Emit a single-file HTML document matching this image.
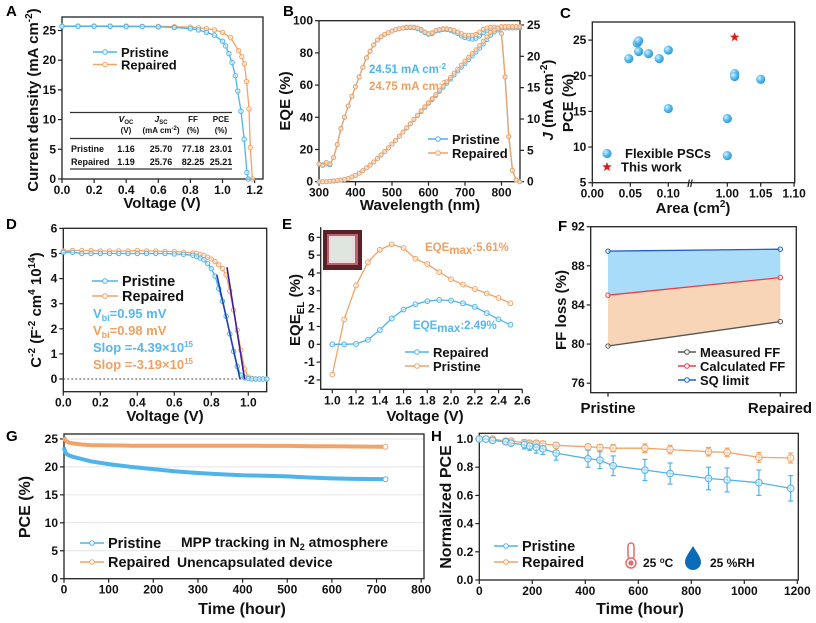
<!DOCTYPE html>
<html><head><meta charset="utf-8">
<style>
html,body{margin:0;padding:0;background:#fff;}
svg{display:block;font-family:"Liberation Sans",Arial,sans-serif;font-weight:bold;}
.t{font-size:12px;fill:#111;}
.ti{font-size:15px;fill:#111;}
.pl{font-size:15px;fill:#000;}
.lg{font-size:13px;fill:#111;}
.lgb{font-size:14.5px;fill:#111;}
</style></head>
<body>
<svg id="fig" width="816" height="623" viewBox="0 0 816 623" xmlns="http://www.w3.org/2000/svg">
<defs>
<radialGradient id="ball" cx="0.35" cy="0.35" r="0.7"><stop offset="0" stop-color="#d8f0ff"/><stop offset="0.5" stop-color="#5cbcf0"/><stop offset="1" stop-color="#2f95d6"/></radialGradient>
</defs>
<!-- panel letters -->
<text class="pl" x="6" y="16">A</text>
<text class="pl" x="283" y="16">B</text>
<text class="pl" x="560" y="18">C</text>
<text class="pl" x="6" y="229">D</text>
<text class="pl" x="282" y="229">E</text>
<text class="pl" x="558" y="231">F</text>
<text class="pl" x="6" y="441">G</text>
<text class="pl" x="431" y="441">H</text>

<!-- axis titles -->
<text class="ti" transform="translate(38,100) rotate(-90)" text-anchor="middle">Current density (mA cm<tspan dy="-6" font-size="10">-2</tspan><tspan dy="6">)</tspan></text>
<text class="ti" x="162" y="208" text-anchor="middle">Voltage (V)</text>
<text class="ti" transform="translate(290,101) rotate(-90)" text-anchor="middle">EQE (%)</text>
<text class="ti" transform="translate(553,100) rotate(-90)" text-anchor="middle"><tspan font-style="italic">J</tspan> (mA cm<tspan dy="-6" font-size="10">-2</tspan><tspan dy="6">)</tspan></text>
<text class="ti" x="420" y="210" text-anchor="middle">Wavelength (nm)</text>
<text class="ti" transform="translate(573,103) rotate(-90)" text-anchor="middle">PCE (%)</text>
<text class="ti" x="693" y="213" text-anchor="middle">Area (cm<tspan dy="-6" font-size="10">2</tspan><tspan dy="6">)</tspan></text>
<text class="ti" transform="translate(41,310) rotate(-90)" text-anchor="middle">C<tspan dy="-6" font-size="10">-2</tspan><tspan dy="6"> (F</tspan><tspan dy="-6" font-size="10">-2</tspan><tspan dy="6"> cm</tspan><tspan dy="-6" font-size="10">4</tspan><tspan dy="6"> 10</tspan><tspan dy="-6" font-size="10">14</tspan><tspan dy="6">)</tspan></text>
<text class="ti" x="165" y="421" text-anchor="middle">Voltage (V)</text>
<text class="ti" transform="translate(300,310) rotate(-90)" text-anchor="middle">EQE<tspan dy="4" font-size="10">EL</tspan><tspan dy="-4"> (%)</tspan></text>
<text class="ti" x="425" y="421" text-anchor="middle">Voltage (V)</text>
<text class="ti" transform="translate(566,310) rotate(-90)" text-anchor="middle">FF loss (%)</text>
<text class="ti" x="608" y="413" text-anchor="middle">Pristine</text>
<text class="ti" x="780" y="413" text-anchor="middle">Repaired</text>
<text class="ti" transform="translate(30,507) rotate(-90)" text-anchor="middle" style="font-size:16px">PCE (%)</text>
<text class="ti" x="242" y="614" text-anchor="middle" style="font-size:16px">Time (hour)</text>
<text class="ti" transform="translate(451,507) rotate(-90)" text-anchor="middle" style="font-size:16px">Normalized PCE</text>
<text class="ti" x="640" y="614" text-anchor="middle" style="font-size:16px">Time (hour)</text>

<!-- A table -->
<g font-size="9" fill="#111">
<line x1="70" y1="112.5" x2="232" y2="112.5" stroke="#333" stroke-width="1.2"/>
<line x1="70" y1="138.5" x2="232" y2="138.5" stroke="#333" stroke-width="1.2"/>
<line x1="70" y1="169" x2="232" y2="169" stroke="#333" stroke-width="1.2"/>
<text x="126" y="122" text-anchor="middle" font-size="8.5"><tspan font-style="italic">V</tspan><tspan font-size="6" dy="2">OC</tspan></text>
<text x="126" y="133" text-anchor="middle" font-size="8">(V)</text>
<text x="161" y="122" text-anchor="middle" font-size="8.5"><tspan font-style="italic">J</tspan><tspan font-size="6" dy="2">SC</tspan></text>
<text x="161" y="133" text-anchor="middle" font-size="8">(mA cm<tspan dy="-3" font-size="6">-2</tspan><tspan dy="3">)</tspan></text>
<text x="193" y="122" text-anchor="middle" font-size="8">FF</text>
<text x="193" y="133" text-anchor="middle" font-size="8">(%)</text>
<text x="221" y="122" text-anchor="middle" font-size="8">PCE</text>
<text x="221" y="133" text-anchor="middle" font-size="8">(%)</text>
<text x="71" y="152">Pristine</text><text x="126" y="152" text-anchor="middle">1.16</text><text x="161" y="152" text-anchor="middle">25.70</text><text x="193" y="152" text-anchor="middle">77.18</text><text x="221" y="152" text-anchor="middle">23.01</text>
<text x="71" y="165">Repaired</text><text x="126" y="165" text-anchor="middle">1.19</text><text x="161" y="165" text-anchor="middle">25.76</text><text x="193" y="165" text-anchor="middle">82.25</text><text x="221" y="165" text-anchor="middle">25.21</text>
</g>

<!-- annotations -->
<text x="369" y="73" font-size="11.5" fill="#4fb6ec">24.51 mA cm<tspan dy="-4" font-size="8">-2</tspan></text>
<text x="369" y="90" font-size="11.5" fill="#f0a060">24.75 mA cm<tspan dy="-4" font-size="8">-2</tspan></text>
<text x="93" y="318" font-size="13" fill="#56b8ec">V<tspan dy="3" font-size="9">bi</tspan><tspan dy="-3">=0.95 mV</tspan></text>
<text x="93" y="335" font-size="13" fill="#f0a060">V<tspan dy="3" font-size="9">bi</tspan><tspan dy="-3">=0.98 mV</tspan></text>
<text x="93" y="352" font-size="13" fill="#56b8ec">Slop =-4.39×10<tspan dy="-5" font-size="8">15</tspan></text>
<text x="93" y="369" font-size="13" fill="#f0a060">Slop =-3.19×10<tspan dy="-5" font-size="8">15</tspan></text>
<text x="425" y="251" font-size="11.5" fill="#f0a060">EQE<tspan dy="3" font-size="11.5">max</tspan><tspan dy="-3">:5.61%</tspan></text>
<text x="413" y="329" font-size="11.5" fill="#56b8ec">EQE<tspan dy="3" font-size="11.5">max</tspan><tspan dy="-3">:2.49%</tspan></text>
<g>
<rect x="323" y="230" width="39" height="40" fill="#5a2228"/>
<rect x="327" y="234" width="31" height="31" fill="#b8646c"/>
<rect x="329" y="236" width="26" height="27" fill="#e6dede"/>
<rect x="331" y="238" width="21" height="22" fill="#dfe6df"/>
</g>
<text x="181" y="547" font-size="14" fill="#111">MPP tracking in N<tspan dy="3" font-size="9">2</tspan><tspan dy="-3"> atmosphere</tspan></text>
<text x="177" y="567" font-size="14" fill="#111">Unencapsulated device</text>
<g>
<rect x="628" y="543" width="6" height="16" rx="3" fill="#fff" stroke="#e86a6a" stroke-width="1.5"/>
<circle cx="631" cy="563" r="5" fill="#fff" stroke="#e86a6a" stroke-width="1.5"/><circle cx="631" cy="563" r="2.6" fill="#e86a6a"/>
</g>
<text x="643" y="567" font-size="12" fill="#111">25 <tspan dy="-4" font-size="8">o</tspan><tspan dy="4">C</tspan></text>
<path d="M693 546 C688 554 685 558 685 562 A8 8 0 0 0 701 562 C701 558 698 554 693 546 Z" fill="#0a6bb8"/>
<text x="710" y="567" font-size="12" fill="#111">25 %RH</text>
<text x="703" y="274" font-size="12" fill="#111" text-anchor="middle">Non-radiative loss</text>
<text x="0" y="0" font-size="12" fill="#111" text-anchor="middle" transform="translate(697,316) rotate(-7)">Transport loss</text>
<text x="690" y="187" font-size="10" fill="#111" text-anchor="middle">//</text>
</svg>
<script>
// ===== DATA =====
// A: J-V
const jvPrisV=[0,0.1,0.2,0.3,0.4,0.5,0.6,0.7,0.8,0.85,0.9,0.95,1.0,1.02,1.04,1.06,1.08,1.095,1.115,1.135,1.152,1.16];
const jvPrisJ=[25.7,25.7,25.7,25.7,25.65,25.65,25.6,25.5,25.3,25.1,24.7,24.2,23.2,22.4,21.1,19.6,17.4,14.8,11.4,6.7,1.1,0];
const jvRepV=[0,0.1,0.2,0.3,0.4,0.5,0.6,0.7,0.8,0.85,0.9,0.95,1.0,1.05,1.1,1.12,1.136,1.15,1.165,1.173,1.186];
const jvRepJ=[25.76,25.76,25.76,25.75,25.75,25.7,25.7,25.65,25.55,25.45,25.3,25.1,24.7,23.8,21.6,20.6,19.4,16.4,11.8,5.3,0];
// B: EQE and integrated J
const eqeWl=[300,310,320,330,340,350,360,370,380,390,400,410,420,430,440,450,460,470,480,490,500,510,520,530,540,550,560,570,580,590,600,610,620,630,640,650,660,670,680,690,700,710,720,730,740,750,760,770,780,790,800,810,820,830,840,850];
const eqeRep=[11,10,12,11,15,23,33,40,47,53,59,65,71,77,81,85,88,90,91.5,92.5,93.5,94.5,95,95.5,96,96,96,95.5,94.5,93,92,92.5,94,94.5,95,95,94.5,94,93,92,91,91,91,91.5,93,94.5,95.5,96,96,95.5,92,65,28,7,1,0];
const eqePris=[11,10.5,11,10.5,15,23,33,40,47,53,59,65,71,77,81,85,88,90,91.5,92.5,93.5,94.5,95,95.3,95.6,95.6,95.6,95,94,92.5,91.5,92,93.5,94,94.5,94.5,94,93,92,90.5,89.5,89,88.5,89,90.5,92.5,94,95,95,95,92,65,28,7,1,0];
const jintRep=[0,0,0,0.05,0.1,0.15,0.25,0.35,0.5,0.75,1.0,1.35,1.75,2.2,2.65,3.15,3.7,4.25,4.8,5.4,6.0,6.6,7.25,7.9,8.6,9.25,9.95,10.6,11.3,11.95,12.6,13.25,13.9,14.6,15.25,15.95,16.6,17.3,17.95,18.6,19.25,19.85,20.45,21.05,21.7,22.4,23.1,23.8,24.2,24.5,24.75,24.75,24.75,24.75,24.75,24.75];
const jintPris=[0,0,0,0.05,0.1,0.15,0.25,0.35,0.5,0.75,1.0,1.35,1.75,2.2,2.65,3.15,3.7,4.25,4.8,5.4,6.0,6.6,7.25,7.9,8.55,9.2,9.9,10.55,11.2,11.85,12.5,13.1,13.75,14.4,15.05,15.7,16.35,17.0,17.65,18.25,18.85,19.45,20.05,20.65,21.3,21.95,22.65,23.35,23.85,24.2,24.51,24.51,24.51,24.51,24.51,24.51];
// C: literature comparison
const litArea=[0.048,0.059,0.061,0.061,0.074,0.088,0.1,0.1,1.0,1.0,1.011,1.011,1.05];
const litPce=[22.4,24.6,24.9,23.4,23.1,22.4,23.6,15.4,14.0,8.8,20.3,19.9,19.5];
const thisArea=[1.011];
const thisPce=[25.4];
// D: Mott-Schottky
const msV=[0,0.05,0.1,0.15,0.2,0.25,0.3,0.35,0.4,0.45,0.5,0.55,0.6,0.65,0.7,0.72,0.74,0.76,0.78,0.8,0.82,0.84,0.86,0.88,0.9,0.92,0.94,0.96,0.98,1.0,1.02,1.04,1.06,1.08,1.1];
const msPris=[5.05,5.05,5.0,5.0,5.0,5.0,5.0,5.0,5.0,5.0,5.0,5.0,4.98,4.97,4.93,4.88,4.82,4.75,4.6,4.4,4.1,3.6,3.1,2.5,1.8,1.1,0.5,0.15,0.05,0.02,0,0,0,0,0];
const msRep=[5.1,5.12,5.12,5.12,5.1,5.1,5.1,5.1,5.12,5.1,5.1,5.08,5.08,5.05,5.02,5.0,4.96,4.92,4.85,4.78,4.68,4.55,4.4,4.15,3.5,2.75,1.95,1.15,0.4,0.08,0.02,0,0,0,0];
const fitPrisV=[0.83,0.955]; const fitPrisC=[4.15,0];
const fitRepV=[0.885,0.98]; const fitRepC=[4.45,0];
// E: EQE_EL
const elV=[1.0,1.1,1.2,1.3,1.4,1.5,1.6,1.7,1.8,1.9,2.0,2.1,2.2,2.3,2.4,2.5];
const elOrange=[-1.7,1.4,3.3,4.6,5.3,5.61,5.4,4.8,4.5,4.05,3.65,3.35,3.1,2.85,2.6,2.3];
const elBlue=[0,0,0.02,0.25,0.8,1.45,1.95,2.25,2.42,2.49,2.45,2.3,2.1,1.75,1.4,1.1];
// F: FF loss
const ffCats=["Pristine","Repaired"];
const ffSQ=[89.5,89.7];
const ffCalc=[85.0,86.8];
const ffMeas=[79.8,82.3];
// G: MPP tracking
const mppT=[0,2,5,10,20,40,60,100,150,200,250,300,350,400,450,500,550,600,650,720];
const mppPris=[23.5,22.8,22.4,22.1,21.8,21.4,21.0,20.5,20.0,19.6,19.2,18.9,18.7,18.5,18.4,18.3,18.1,17.95,17.85,17.8];
const mppRep=[25.3,24.9,24.6,24.4,24.2,24.0,23.9,23.85,23.8,23.8,23.8,23.8,23.8,23.8,23.75,23.75,23.7,23.7,23.65,23.6];
// H: humidity stability
const stabT=[0,25,50,100,120,170,190,215,240,290,410,455,505,625,720,865,935,1055,1175];
const stabPris=[1,1,0.99,0.98,0.97,0.96,0.95,0.94,0.93,0.9,0.86,0.85,0.81,0.78,0.755,0.72,0.71,0.69,0.65];
const stabPrisErr=[0,0,0.005,0.01,0.015,0.03,0.03,0.04,0.04,0.05,0.06,0.06,0.07,0.075,0.075,0.08,0.085,0.09,0.09];
const stabRep=[1,1,1,0.985,0.985,0.975,0.97,0.97,0.965,0.955,0.945,0.94,0.935,0.935,0.925,0.91,0.905,0.87,0.865];
const stabRepErr=[0,0,0.005,0.01,0.01,0.02,0.02,0.02,0.02,0.02,0.02,0.02,0.025,0.03,0.03,0.03,0.03,0.035,0.035];
// tick labels
const aXTicks=[0,0.2,0.4,0.6,0.8,1.0,1.2], aYTicks=[0,5,10,15,20,25];
const bXTicks=[300,400,500,600,700,800], bYTicks=[0,20,40,60,80,100], bRTicks=[0,5,10,15,20,25];
const cXTicksL=[0,0.05,0.1], cXTicksR=[1.0,1.05,1.1], cYTicks=[5,10,15,20,25];
const dXTicks=[0,0.2,0.4,0.6,0.8,1.0], dYTicks=[0,1,2,3,4,5,6];
const eXTicks=[1.0,1.2,1.4,1.6,1.8,2.0,2.2,2.4,2.6], eYTicks=[-2,-1,0,1,2,3,4,5,6];
const fYTicks=[76,80,84,88,92];
const gXTicks=[0,100,200,300,400,500,600,700,800], gYTicks=[0,5,10,15,20,25];
const hXTicks=[0,200,400,600,800,1000,1200], hYTicks=[0,0.2,0.4,0.6,0.8,1.0];

// ===== DRAWING =====
const NS="http://www.w3.org/2000/svg";
const svg=document.getElementById('fig');
const BLUE="#4fb4ea", ORANGE="#f0a468";
function mk(tag,attrs,name,parent){
  const el=document.createElementNS(NS,tag);
  for(const k in attrs) el.setAttribute(k,attrs[k]);
  
  
  (parent||svg).appendChild(el);
  return el;
}
function label(x,y,s,anchor,name,cls){
  const t=mk('text',{x:x,y:y,'text-anchor':anchor,class:cls||'t'},name);
  t.textContent=s; return t;
}
function frame(x0,y0,x1,y1,name,full){
  if(full) mk('rect',{x:x0,y:y0,width:x1-x0,height:y1-y0,fill:'none',stroke:'#222','stroke-width':1.3},name);
  else mk('path',{d:`M${x0} ${y0} V${y1} H${x1}`,fill:'none',stroke:'#222','stroke-width':1.3},name);
}
function xticks(vals,fx,y,dec,name){
  vals.forEach(v=>{const x=fx(v);
    mk('line',{x1:x,y1:y,x2:x,y2:y+4,stroke:'#222','stroke-width':1.2},name+'-tick');
    label(x,y+15,v.toFixed(dec),'middle',name+'-label');});
}
function yticks(vals,fy,x,dec,name,right){
  vals.forEach(v=>{const y=fy(v);
    mk('line',{x1:x,y1:y,x2:right?x+4:x-4,y2:y,stroke:'#222','stroke-width':1.2},name+'-tick');
    label(right?x+7:x-6,y+4,v.toFixed(dec),right?'start':'end',name+'-label');});
}
function series(xs,ys,fx,fy,color,name,r,sw){
  const d=xs.map((x,i)=>(i?'L':'M')+fx(x).toFixed(1)+' '+fy(ys[i]).toFixed(1)).join(' ');
  mk('path',{d:d,fill:'none',stroke:color,'stroke-width':sw||1.3},name+'-line');
  if(r) xs.forEach((x,i)=>mk('circle',{cx:fx(x),cy:fy(ys[i]),r:r,fill:'#fff','fill-opacity':0.5,stroke:color,'stroke-width':1},name+'-marker'));
}
function legend(x,y,color,s,name,len,cls){
  mk('line',{x1:x,y1:y,x2:x+(len||24),y2:y,stroke:color,'stroke-width':1.5},name+'-swatch');
  mk('circle',{cx:x+(len||24)/2,cy:y,r:2.3,fill:'#fff',stroke:color,'stroke-width':1},name+'-swatch-marker');
  label(x+(len||24)+4,y+5,s,'start',name+'-text',cls||'lg');
}

// A
const xA=v=>62+v*160.5, yA=j=>179-j*5.94;
frame(62,17,263,179,'a-plot-frame',true);
xticks(aXTicks,xA,179,1,'a-x-axis');
yticks(aYTicks,yA,62,0,'a-y-axis');
series(jvRepV,jvRepJ,xA,yA,ORANGE,'a-series-repaired',2.2);
series(jvPrisV,jvPrisJ,xA,yA,BLUE,'a-series-pristine',2.2);
legend(93,52,BLUE,'Pristine','a-legend-pristine');
legend(93,64.5,ORANGE,'Repaired','a-legend-repaired');

// B
const xB=w=>319+(w-300)*0.365, yB=e=>181.7-e*1.61, yBr=j=>181.7-j*6.27;
frame(319,20.7,520,181.7,'b-plot-frame',true);
xticks(bXTicks,xB,181.7,0,'b-x-axis');
yticks(bYTicks,yB,319,0,'b-y-axis');
yticks(bRTicks,yBr,520,0,'b-right-axis',true);
series(eqeWl,eqePris,xB,yB,BLUE,'b-eqe-pristine',2);
series(eqeWl,jintPris,xB,yBr,BLUE,'b-jint-pristine',2);
series(eqeWl,eqeRep,xB,yB,ORANGE,'b-eqe-repaired',2);
series(eqeWl,jintRep,xB,yBr,ORANGE,'b-jint-repaired',2);
legend(428,139,BLUE,'Pristine','b-legend-pristine',20);
legend(428,153,ORANGE,'Repaired','b-legend-repaired',20);

// C
const xC=a=>a<0.5?592.3+a*760:727.3+(a-1)*668, yC=p=>182.7-(p-5)*7.13;
frame(592.3,22,794.7,182.7,'c-plot-frame',true);
xticks(cXTicksL,xC,182.7,2,'c-x-axis');
xticks(cXTicksR,xC,182.7,2,'c-x-axis');
yticks(cYTicks,yC,592.3,0,'c-y-axis');
litArea.forEach((a,i)=>mk('circle',{cx:xC(a),cy:yC(litPce[i]),r:4.6,fill:'url(#ball)'},'c-point-flexible-psc'));
function star(cx,cy,r,name){let d='';for(let k=0;k<10;k++){const rr=k%2?r*0.42:r;const an=-Math.PI/2+k*Math.PI/5;d+=(k?'L':'M')+(cx+rr*Math.cos(an)).toFixed(1)+' '+(cy+rr*Math.sin(an)).toFixed(1);}mk('path',{d:d+'Z',fill:'#e01818'},name);}
thisArea.forEach((a,i)=>star(xC(a),yC(thisPce[i]),5,'c-point-this-work'));
mk('circle',{cx:607,cy:153.5,r:4.6,fill:'url(#ball)'},'c-legend-flexible-marker');
label(625,158,'Flexible PSCs','start','c-legend-flexible-text','lg');
star(607,167,5,'c-legend-this-work-marker');
label(621,171.5,'This work','start','c-legend-this-work-text','lg');

// D
const xD=v=>63.3+v*185, yD=c=>379-c*25.1;
frame(63.3,228.3,266.7,391.7,'d-plot-frame',true);
xticks(dXTicks,xD,391.7,1,'d-x-axis');
yticks(dYTicks,yD,63.3,0,'d-y-axis');
mk('line',{x1:63.3,y1:yD(0),x2:266.7,y2:yD(0),stroke:'#555','stroke-dasharray':'2,2','stroke-width':1},'d-zero-line');
series(msV,msRep,xD,yD,ORANGE,'d-series-repaired',2.2);
series(msV,msPris,xD,yD,BLUE,'d-series-pristine',2.2);
series(fitPrisV,fitPrisC,xD,yD,'#1f3fb8','d-fit-pristine',0,1.6);
series(fitRepV,fitRepC,xD,yD,'#3a1f9a','d-fit-repaired',0,1.6);
legend(92,281,BLUE,'Pristine','d-legend-pristine',26,'lgb');
legend(92,296,ORANGE,'Repaired','d-legend-repaired',26,'lgb');

// E
const xE=v=>332.3+(v-1)*118.75, yE=e=>344.3-e*17.83;
frame(320.7,227.3,522.3,389.3,'e-plot-frame',false);
xticks(eXTicks,xE,389.3,1,'e-x-axis');
yticks(eYTicks,yE,320.7,0,'e-y-axis');
series(elV,elOrange,xE,yE,ORANGE,'e-series-orange',2.4);
series(elV,elBlue,xE,yE,BLUE,'e-series-blue',2.4);
legend(405,352,BLUE,'Repaired','e-legend-repaired');
legend(405,366,ORANGE,'Pristine','e-legend-pristine');

// F
const xF=i=>608+i*172.3, yF=f=>226.7+(92-f)*9.78;
const idx=[0,1];
mk('path',{d:`M${xF(0)} ${yF(ffSQ[0])} L${xF(1)} ${yF(ffSQ[1])} L${xF(1)} ${yF(ffCalc[1])} L${xF(0)} ${yF(ffCalc[0])}Z`,fill:'#a9dcf8'},'f-nonradiative-area');
mk('path',{d:`M${xF(0)} ${yF(ffCalc[0])} L${xF(1)} ${yF(ffCalc[1])} L${xF(1)} ${yF(ffMeas[1])} L${xF(0)} ${yF(ffMeas[0])}Z`,fill:'#f9d5b8'},'f-transport-area');
frame(590.7,226.7,796.3,392.7,'f-plot-frame',true);
yticks(fYTicks,yF,590.7,0,'f-y-axis');
idx.forEach(i=>mk('line',{x1:xF(i),y1:392.7,x2:xF(i),y2:396.7,stroke:'#222','stroke-width':1.2},'f-x-tick'));
series(idx,ffSQ,xF,yF,'#1f5fc8','f-series-sq-limit',2.2);
series(idx,ffCalc,xF,yF,'#e8404a','f-series-calculated',2.2);
series(idx,ffMeas,xF,yF,'#555','f-series-measured',2.2);
legend(678,352,'#555','Measured FF','f-legend-measured',18);
legend(678,366,'#e8404a','Calculated FF','f-legend-calculated',18);
legend(678,380,'#1f5fc8','SQ limit','f-legend-sq',18);

// G
const xG=t=>64+t*0.4465, yG=p=>578.7-p*5.59;
gYTicks.forEach(v=>mk('line',{x1:64,y1:yG(v),x2:424,y2:yG(v),stroke:'#e4e4e4','stroke-width':1},'g-gridline'));
frame(64,434,424,578.7,'g-plot-frame',true);
xticks(gXTicks,xG,578.7,0,'g-x-axis');
yticks(gYTicks,yG,64,0,'g-y-axis');
series(mppT,mppRep,xG,yG,ORANGE,'g-series-repaired',0,4);
series(mppT,mppPris,xG,yG,BLUE,'g-series-pristine',0,4);
mk('circle',{cx:xG(720),cy:yG(23.6),r:2.5,fill:'#fff',stroke:ORANGE},'g-end-marker-repaired');
mk('circle',{cx:xG(720),cy:yG(17.8),r:2.5,fill:'#fff',stroke:BLUE},'g-end-marker-pristine');
legend(80,543,BLUE,'Pristine','g-legend-pristine',24,'lgb');
legend(80,562,ORANGE,'Repaired','g-legend-repaired',24,'lgb');

// H
const xH=t=>479.3+t*0.265, yH=v=>580-v*141;
frame(479.3,433.3,798.3,580,'h-plot-frame',true);
xticks(hXTicks,xH,580,0,'h-x-axis');
yticks(hYTicks,yH,479.3,1,'h-y-axis');
function errs(ts,vs,es,color,name){ts.forEach((t,i)=>{const x=xH(t);
  mk('line',{x1:x,y1:yH(vs[i]+es[i]),x2:x,y2:yH(vs[i]-es[i]),stroke:color,'stroke-width':1.2},name);
  mk('line',{x1:x-2.5,y1:yH(vs[i]+es[i]),x2:x+2.5,y2:yH(vs[i]+es[i]),stroke:color,'stroke-width':1.2},name+'-cap');
  mk('line',{x1:x-2.5,y1:yH(vs[i]-es[i]),x2:x+2.5,y2:yH(vs[i]-es[i]),stroke:color,'stroke-width':1.2},name+'-cap');});}
errs(stabT,stabRep,stabRepErr,ORANGE,'h-errorbar-repaired');
errs(stabT,stabPris,stabPrisErr,BLUE,'h-errorbar-pristine');
series(stabT,stabRep,xH,yH,ORANGE,'h-series-repaired',3.3);
series(stabT,stabPris,xH,yH,BLUE,'h-series-pristine',3.3);
legend(494,546,BLUE,'Pristine','h-legend-pristine',24,'lgb');
legend(494,562,ORANGE,'Repaired','h-legend-repaired',24,'lgb');
</script>
</body></html>
